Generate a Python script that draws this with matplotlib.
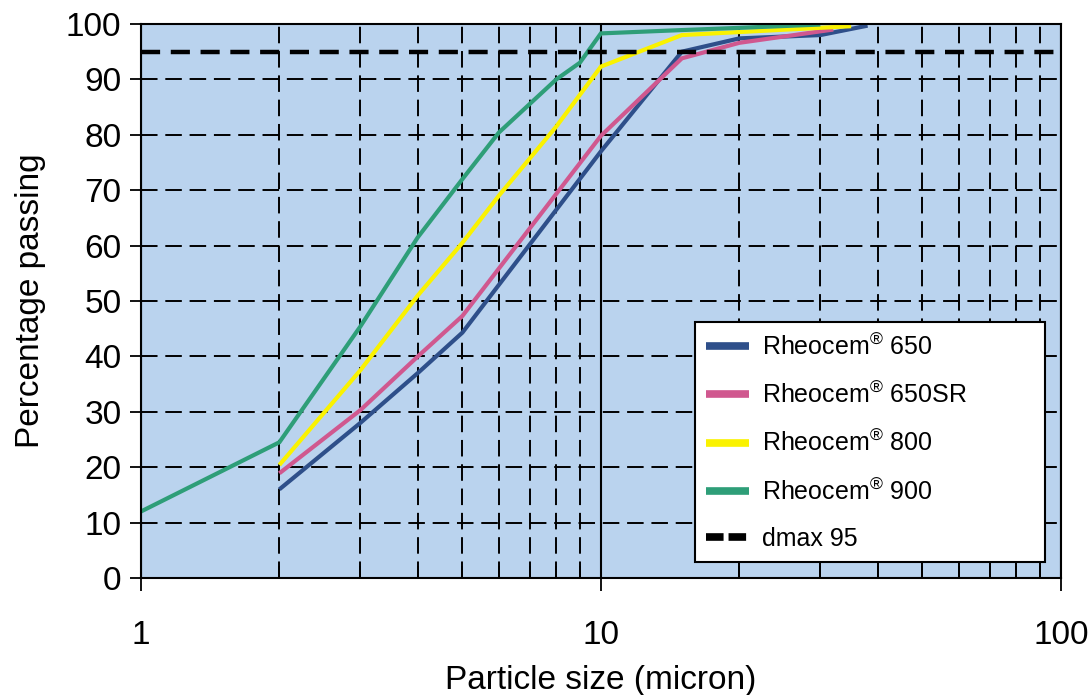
import matplotlib
matplotlib.use("Agg")
import matplotlib.pyplot as plt
from matplotlib.ticker import LogLocator, NullFormatter, FixedLocator, FixedFormatter

plt.rcParams['font.family'] = ['Liberation Sans', 'DejaVu Sans']
plt.rcParams['mathtext.default'] = 'regular'

# ---- data ----
x_650 = [2, 3, 4, 5, 10, 15, 20, 30, 38]
y_650 = [16, 28, 37, 44.3, 77, 95, 97.4, 98, 99.7]

x_650sr = [2, 3, 4, 5, 10, 15, 20, 32]
y_650sr = [18.9, 30.3, 40, 47.3, 79.8, 93.8, 96.6, 99.0]

x_800 = [2, 3, 4, 5, 6, 8, 10, 15, 35]
y_800 = [20.4, 37.5, 51, 60.5, 69, 81.5, 92.3, 98, 99.6]

x_900 = [1, 2, 3, 4, 5, 6, 8, 9, 10, 15, 20, 30]
y_900 = [12, 24.5, 45.4, 61.5, 72, 80.4, 90, 93, 98.3, 98.9, 99.3, 99.9]

dmax_value = 95

labels = ['Rheocem$^{®}$ 650', 'Rheocem$^{®}$ 650SR', 'Rheocem$^{®}$ 800',
          'Rheocem$^{®}$ 900', 'dmax 95']
colors = ['#2E4F8A', '#D0588F', '#FAF200', '#2E9E78']

yticks = [0, 10, 20, 30, 40, 50, 60, 70, 80, 90, 100]
xticks = [1, 10, 100]
xticklabels = ['1', '10', '100']

# ---- figure ----
fig = plt.figure(figsize=(10.92, 6.95), dpi=100)
ax = fig.add_axes([0.129, 0.1683, 0.8425, 0.7972])
ax.set_facecolor('#BAD3EE')
ax.set_xscale('log')
ax.set_xlim(1, 100)
ax.set_ylim(0, 100)

ax.xaxis.set_major_locator(FixedLocator(xticks))
ax.xaxis.set_major_formatter(FixedFormatter(xticklabels))
ax.xaxis.set_minor_locator(LogLocator(base=10, subs=range(2, 10)))
ax.xaxis.set_minor_formatter(NullFormatter())
ax.set_yticks(yticks)

ax.set_axisbelow(True)
ax.xaxis.grid(True, which='major', color='black', lw=1.5, ls='-')
ax.xaxis.grid(True, which='minor', color='black', lw=1.4, ls=(0, (8.5, 4)))
ax.yaxis.grid(True, which='major', color='black', lw=1.4, ls=(0, (8.5, 4)))

for sp in ax.spines.values():
    sp.set_linewidth(1.5)
    sp.set_color('black')

ax.tick_params(axis='y', which='major', direction='out', length=8, width=1.3,
               labelsize=24, pad=6)
ax.tick_params(axis='x', which='major', direction='out', length=9.5, width=1.3,
               labelsize=24, pad=21)
ax.tick_params(axis='x', which='minor', direction='in', length=9, width=1.3)

series = [(x_650, y_650), (x_650sr, y_650sr), (x_800, y_800), (x_900, y_900)]
handles = []
for (xs, ys), c, lab in zip(series, colors, labels[:4]):
    h, = ax.plot(xs, ys, color=c, lw=3.0, label=lab, solid_capstyle='butt',
                 solid_joinstyle='miter')
    handles.append(h)

hd = ax.axhline(dmax_value, color='black', lw=3.2, ls=(0, (4.3, 2.4)),
                label=labels[4], zorder=5)
handles.append(hd)

ax.set_xlabel('Particle size (micron)', fontsize=24, labelpad=10)
ax.set_ylabel('Percentage passing', fontsize=24, labelpad=14)

leg = ax.legend(handles=handles, labels=labels, loc='lower left',
                bbox_to_anchor=(0.602, 0.029, 0.381, 0.43), mode='expand',
                fontsize=18, frameon=True, fancybox=False, framealpha=1,
                edgecolor='black', borderpad=0.45, labelspacing=0.88,
                handlelength=1.73, handletextpad=0.5, borderaxespad=0)
leg.get_frame().set_linewidth(1.5)
leg.set_zorder(10)
for i, ln in enumerate(leg.get_lines()):
    ln.set_linewidth(5.5)
    if i == 4:
        ln.set_linestyle((0, (2.3, 0.65)))

fig.savefig('out.png', dpi=100)
